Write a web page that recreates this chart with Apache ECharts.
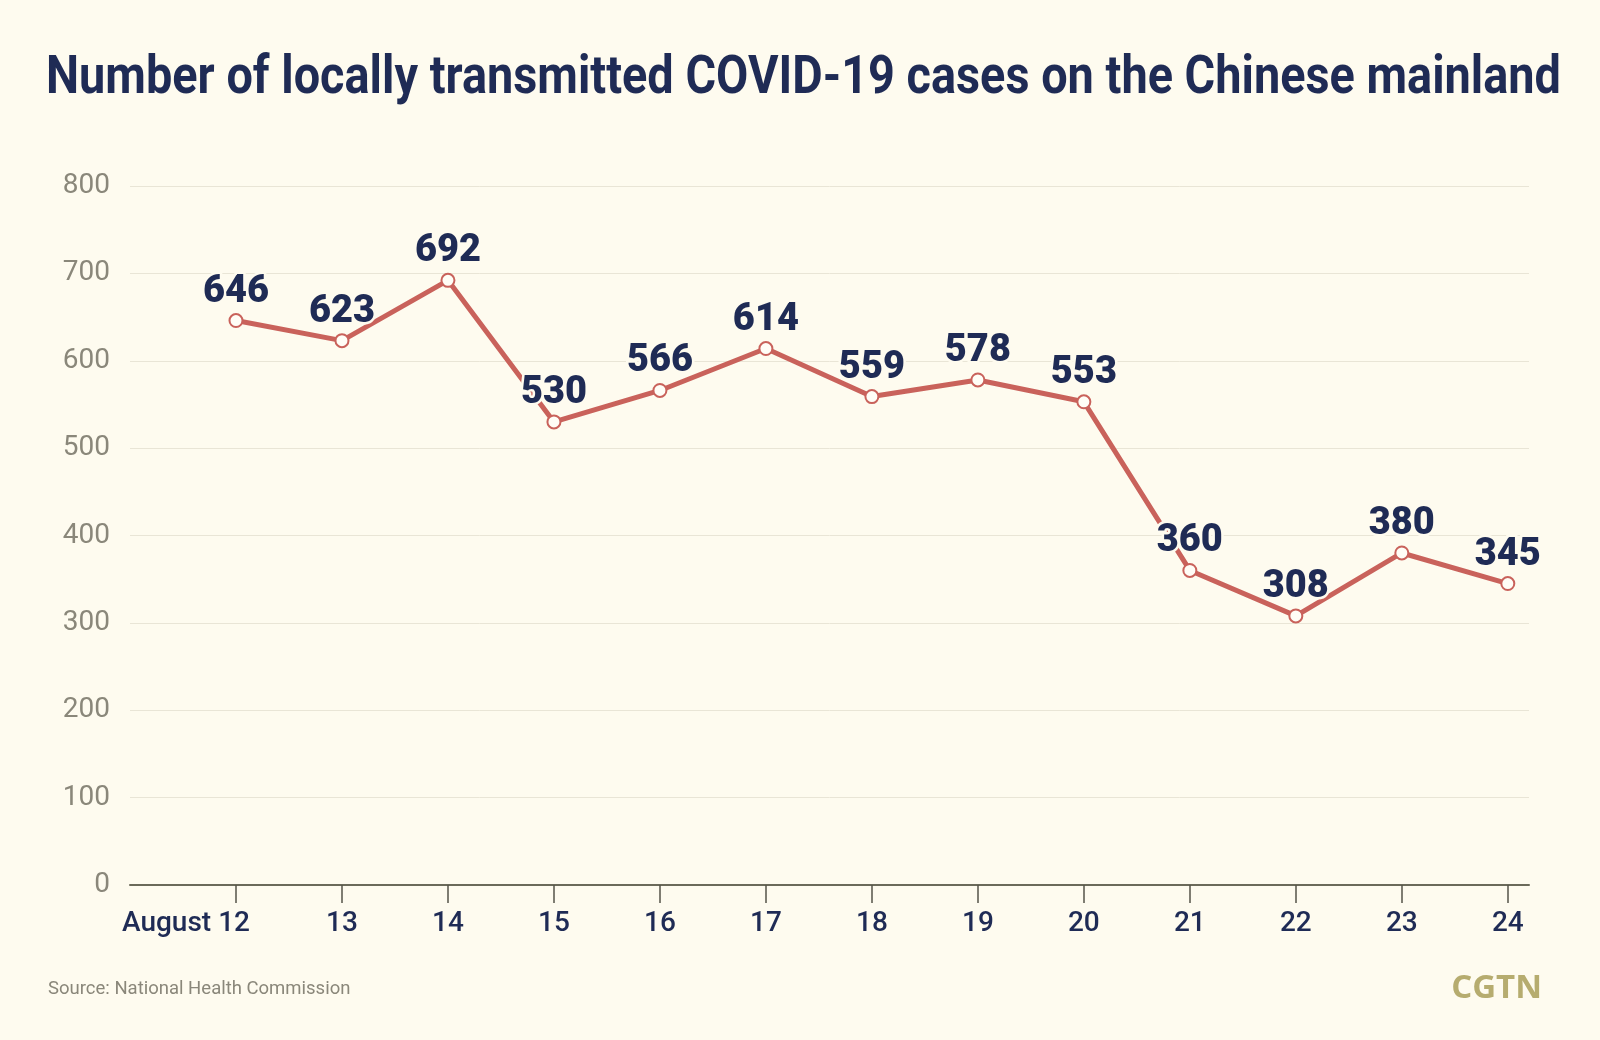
<!DOCTYPE html>
<html>
<head>
<meta charset="utf-8">
<script src="https://cdn.jsdelivr.net/npm/echarts@6/dist/echarts.min.js"></script>
<style>
html,body{margin:0;padding:0;background:#fefbef;}
#chart{width:1600px;height:1040px;}
</style>
</head>
<body>
<div id="chart"></div>
<script>
const titleText = 'Number of locally transmitted COVID-19 cases on the Chinese mainland';
const sourceText = 'Source: National Health Commission';
const logoText = 'CGTN';
const categories = ['August 12','13','14','15','16','17','18','19','20','21','22','23','24'];
const cases = [646, 623, 692, 530, 566, 614, 559, 578, 553, 360, 308, 380, 345];
const yTicks = [0, 100, 200, 300, 400, 500, 600, 700, 800];

const BG = '#fefbef';
const NAVY = '#1f2b55';
const RED = '#c9625b';

// fit title to the reference width by horizontal compression
const TITLE_FONT = 'bold 53px Roboto, sans-serif';
const TITLE_WIDTH = 1515;
const ctx = document.createElement('canvas').getContext('2d');
ctx.font = TITLE_FONT;
const titleScale = Math.min(1, TITLE_WIDTH / ctx.measureText(titleText).width);

const chart = echarts.init(document.getElementById('chart'));
const idx = categories.map((c, i) => i);

chart.setOption({
  backgroundColor: BG,
  animation: false,
  graphic: [
    {
      type: 'text', x: 46, y: 53, scaleX: titleScale,
      style: { text: titleText, fill: NAVY, font: TITLE_FONT, textVerticalAlign: 'top' }
    },
    {
      type: 'text', left: 48, top: 980,
      style: { text: sourceText, fill: '#8a877a', font: '18.5px Roboto, sans-serif' }
    },
    {
      type: 'text', right: 58, top: 972,
      style: { text: logoText, fill: '#b6ac6f', font: 'bold 33px "Open Sans", Roboto, sans-serif' }
    }
  ],
  grid: { left: 130, right: 71, top: 186, bottom: 155, containLabel: false },
  xAxis: {
    type: 'value',
    min: -1,
    max: 12.2,
    interval: 1,
    splitLine: { show: false },
    axisLine: { show: true, lineStyle: { color: '#6b6a5a', width: 2 } },
    axisTick: {
      show: true, length: 18, customValues: idx,
      lineStyle: { color: '#55544a', width: 1.5 }
    },
    axisLabel: {
      customValues: idx,
      margin: 25,
      formatter: function (v) {
        const i = Math.round(v);
        if (i === 0) return '{a|' + categories[i] + '}{s|}';
        return '{a|' + categories[i] + '}';
      },
      rich: {
        a: { fontFamily: 'Roboto, sans-serif', fontSize: 28, fontWeight: 500, color: NAVY },
        s: { width: 100 }
      }
    }
  },
  yAxis: {
    type: 'value',
    min: 0,
    max: 800,
    interval: 100,
    axisLine: { show: false },
    axisTick: { show: false },
    splitLine: { show: true, lineStyle: { color: '#e9e5d6', width: 1 } },
    axisLabel: {
      margin: 20,
      customValues: yTicks,
      fontFamily: 'Roboto, sans-serif',
      fontSize: 28,
      color: '#8a877a'
    }
  },
  series: [{
    type: 'line',
    data: cases.map((v, i) => [i, v]),
    symbol: 'circle',
    symbolSize: 13,
    lineStyle: { color: RED, width: 5 },
    itemStyle: { color: '#fffdf6', borderColor: RED, borderWidth: 2 },
    label: {
      show: true,
      position: 'top',
      distance: 2,
      formatter: (p) => String(p.value[1]),
      fontFamily: 'Roboto, sans-serif',
      fontSize: 38,
      fontWeight: 900,
      color: NAVY,
      textBorderColor: BG,
      textBorderWidth: 5
    },
    z: 3
  }]
});
</script>
</body>
</html>
